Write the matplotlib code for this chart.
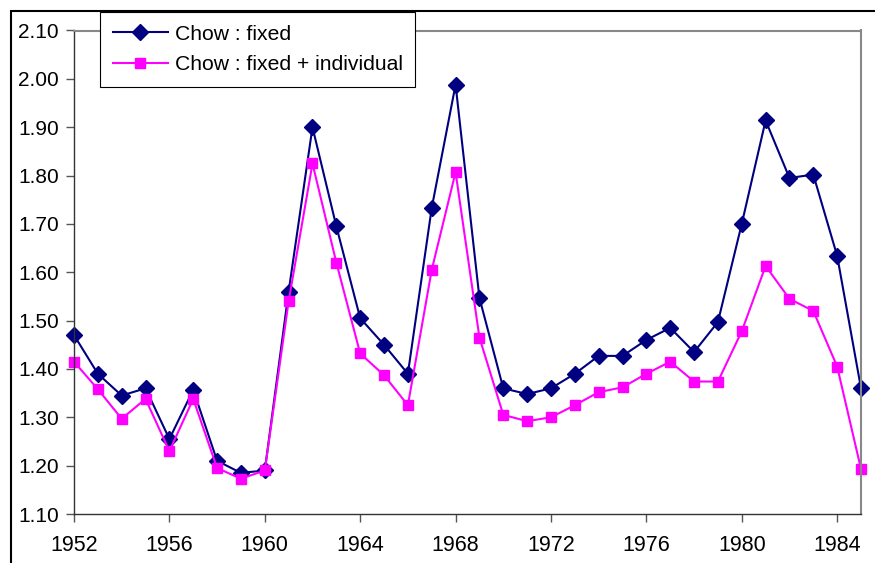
import matplotlib.pyplot as plt
from matplotlib.patches import Rectangle

plt.rcParams['font.family'] = ['Liberation Sans', 'DejaVu Sans']

years = list(range(1952, 1986))
fixed = [1.47, 1.39, 1.345, 1.36, 1.255, 1.357, 1.21, 1.185, 1.19, 1.56,
         1.90, 1.695, 1.505, 1.45, 1.39, 1.733, 1.988, 1.547, 1.36, 1.348,
         1.36, 1.39, 1.427, 1.427, 1.46, 1.485, 1.435, 1.497, 1.70, 1.914,
         1.795, 1.802, 1.634, 1.36]
fixed_indiv = [1.415, 1.358, 1.297, 1.338, 1.23, 1.338, 1.195, 1.173, 1.19, 1.54,
               1.825, 1.62, 1.432, 1.387, 1.325, 1.605, 1.807, 1.465, 1.305, 1.292,
               1.30, 1.325, 1.352, 1.362, 1.39, 1.415, 1.374, 1.374, 1.478, 1.613,
               1.545, 1.52, 1.405, 1.193]
xticks = list(range(1952, 1985, 4))
yticks = [1.10 + 0.1 * i for i in range(11)]

fig = plt.figure(figsize=(8.75, 5.63), dpi=100)
ax = fig.add_axes([74 / 875, 1 - 514 / 563, (861 - 74) / 875, (514 - 30.5) / 563])

# outer chart frame
fig.patches.append(Rectangle((11 / 875, -0.05), 1.1, 1 - 10.5 / 563 + 0.05,
                             transform=fig.transFigure, fill=False,
                             edgecolor='black', linewidth=1.5))

ax.plot(years, fixed, color='#000080', marker='D', markersize=8.5, linewidth=1.5,
        label='Chow : fixed', clip_on=False)
ax.plot(years, fixed_indiv, color='#FF00FF', marker='s', markersize=7.5, linewidth=1.5,
        label='Chow : fixed + individual', clip_on=False)

ax.set_xlim(1952, 1985)
ax.set_ylim(1.10, 2.10)
ax.set_xticks(xticks)
ax.set_yticks(yticks)
ax.set_yticklabels([f'{v:.2f}' for v in yticks])
ax.tick_params(length=6, width=1, color='#555555')
ax.tick_params(axis='y', labelsize=15, pad=5)
ax.tick_params(axis='x', labelsize=15.5, pad=9)

for side in ['top', 'right']:
    ax.spines[side].set_color('#888888')
    ax.spines[side].set_linewidth(1.5)
for side in ['left', 'bottom']:
    ax.spines[side].set_color('#333333')
    ax.spines[side].set_linewidth(1)

leg = ax.legend(loc='upper left', bbox_to_anchor=(100 / 875, 1 - 12 / 563),
                bbox_transform=fig.transFigure, borderaxespad=0, fontsize=15.2,
                frameon=True, fancybox=False, framealpha=1, edgecolor='black',
                handlelength=2.6, handletextpad=0.33, borderpad=0.6,
                labelspacing=0.55)
leg.get_frame().set_linewidth(0.8)

fig.savefig('out.png', dpi=100)
